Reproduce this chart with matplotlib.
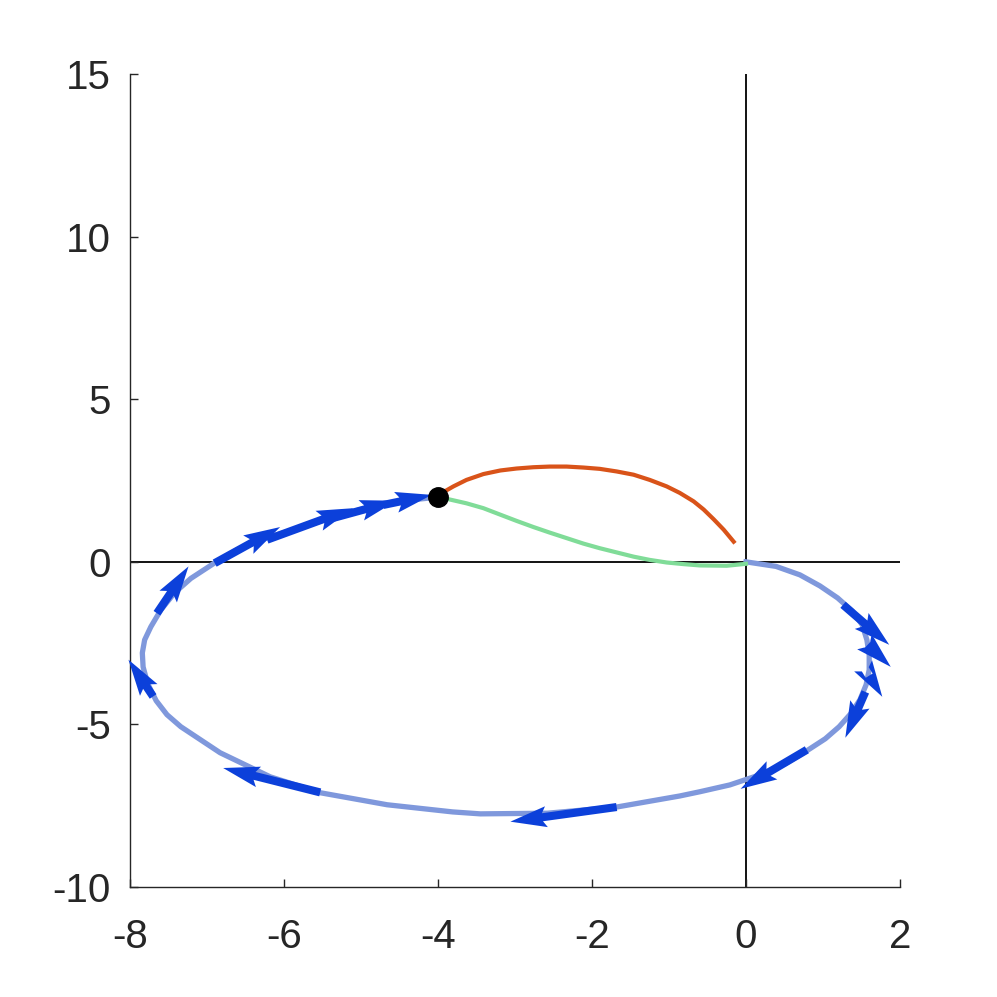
import numpy as np
from matplotlib import pyplot as plt

# trajectory, from the origin round to the dot
orbit_x = [0.0, 0.39, 0.70, 0.96, 1.19, 1.38, 1.51, 1.57, 1.60, 1.60, 1.56, 1.48, 1.36, 1.21, 1.03,
           0.79, 0.51, 0.18, -0.21, -0.60, -0.86, -1.68, -2.58, -3.45, -3.81, -4.66, -5.53, -6.18,
           -6.83, -7.34, -7.52, -7.66, -7.77, -7.83, -7.84, -7.81, -7.73, -7.60, -7.42, -7.21,
           -6.90, -6.61, -6.22, -5.79, -5.36, -4.88, -4.45, -4.00]
orbit_y = [0.0, -0.14, -0.40, -0.74, -1.11, -1.51, -1.94, -2.40, -2.86, -3.32, -3.78, -4.24, -4.67, -5.07, -5.44,
           -5.81, -6.21, -6.55, -6.86, -7.07, -7.20, -7.54, -7.73, -7.75, -7.69, -7.47, -7.10, -6.61,
           -5.87, -5.07, -4.70, -4.27, -3.75, -3.23, -2.80, -2.40, -2.00, -1.48, -0.95, -0.51,
           -0.03, 0.37, 0.74, 1.05, 1.38, 1.69, 1.88, 1.99]

green_x = [-4.00, -3.63, -3.41, -3.19, -2.98, -2.76, -2.55, -2.33, -2.11, -1.90, -1.68, -1.46, -1.25,
           -1.03, -0.81, -0.60, -0.25, 0.0]
green_y = [2.00, 1.80, 1.65, 1.45, 1.26, 1.07, 0.90, 0.73, 0.56, 0.42, 0.29, 0.16, 0.06,
           -0.02, -0.07, -0.11, -0.12, -0.06]

orange_x = [-4.00, -3.80, -3.63, -3.41, -3.19, -2.98, -2.76, -2.55, -2.33, -2.11, -1.90, -1.68, -1.46,
            -1.25, -1.03, -0.86, -0.68, -0.55, -0.42, -0.29, -0.16]
orange_y = [2.05, 2.32, 2.52, 2.70, 2.81, 2.87, 2.91, 2.93, 2.93, 2.90, 2.86, 2.78, 2.68,
            2.52, 2.32, 2.12, 1.86, 1.61, 1.31, 0.99, 0.62]

arrow_tail_x = [1.26, 1.58, 1.60, 1.55, 0.79, -1.68, -5.53, -7.70, -7.65, -6.90, -6.22, -5.36, -4.71]
arrow_tail_y = [-1.32, -2.55, -3.50, -4.00, -5.78, -7.54, -7.09, -4.14, -1.58, -0.04, 0.68, 1.35, 1.75]
arrow_tip_x = [1.86, 1.88, 1.77, 1.29, -0.07, -3.06, -6.79, -8.02, -7.24, -6.05, -5.10, -4.54, -4.08]
arrow_tip_y = [-2.55, -3.23, -4.15, -5.41, -6.98, -7.99, -6.34, -3.01, -0.14, 1.07, 1.65, 1.88, 2.06]

dot_x = [-4.0]
dot_y = [2.0]

x_ticks = [-8, -6, -4, -2, 0, 2]
y_ticks = [-10, -5, 0, 5, 10, 15]

plt.rcParams['font.family'] = ['Liberation Sans', 'DejaVu Sans']
plt.rcParams['axes.unicode_minus'] = False

fig = plt.figure(figsize=(9.97, 9.97), dpi=100)
ax = fig.add_axes([0.1304, 0.1103, 0.7723, 0.8154])

ax.axhline(0, color='black', lw=1.3, zorder=1)
ax.axvline(0, color='black', lw=1.3, zorder=1)

ax.plot(orbit_x, orbit_y, color='#7f98dc', lw=3.8, solid_joinstyle='round', zorder=2)
ax.plot(orange_x, orange_y, color='#d95319', lw=3.0, solid_joinstyle='round', zorder=2)
ax.plot(green_x, green_y, color='#80dc98', lw=3.0, solid_joinstyle='round', zorder=2)

u = np.array(arrow_tip_x) - np.array(arrow_tail_x)
v = np.array(arrow_tip_y) - np.array(arrow_tail_y)
q = ax.quiver(arrow_tail_x, arrow_tail_y, u, v, angles='xy', scale_units='xy', scale=1,
              color='#0c40da', width=0.0105, headwidth=2.6, headlength=4.5, headaxislength=4.0,
              minshaft=0.4, zorder=3)
q.set_clip_on(False)

ax.plot(dot_x, dot_y, 'o', color='black', ms=14, zorder=4)

ax.set_xlim(-8, 2)
ax.set_ylim(-10, 15)
ax.set_xticks(x_ticks)
ax.set_yticks(y_ticks)
ax.spines['top'].set_visible(False)
ax.spines['right'].set_visible(False)
for s in ['left', 'bottom']:
    ax.spines[s].set_color('#262626')
    ax.spines[s].set_linewidth(1.0)
ax.tick_params(direction='in', length=6, width=1.0, color='#262626', labelcolor='#262626',
               labelsize=29)
ax.tick_params(axis='x', pad=22)
ax.tick_params(axis='y', pad=14)

fig.savefig('out.png', dpi=100)
